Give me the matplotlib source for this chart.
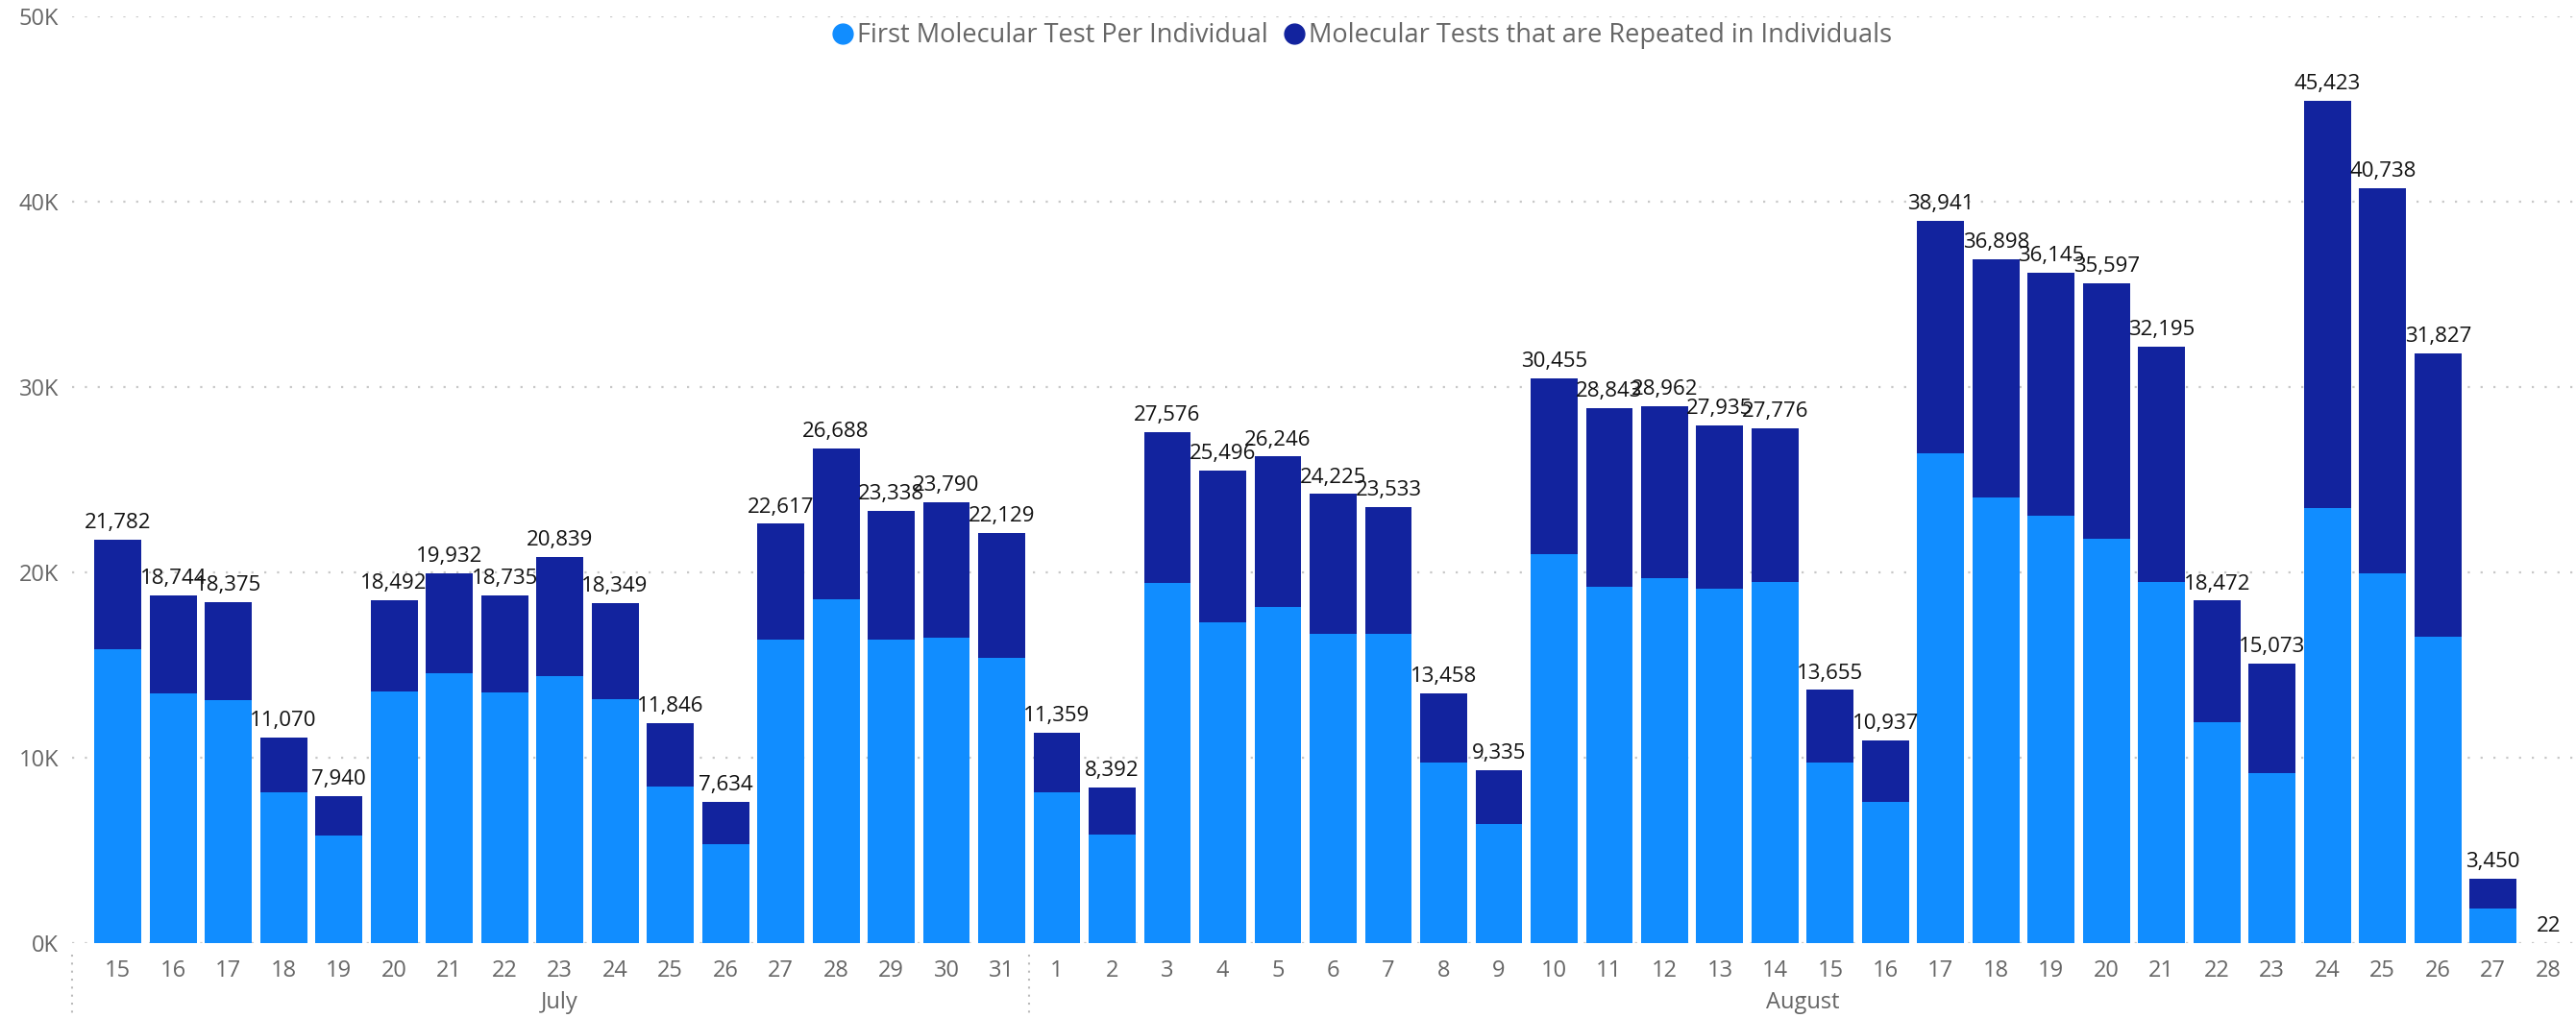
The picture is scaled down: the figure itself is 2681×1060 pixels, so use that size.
import matplotlib
matplotlib.use("Agg")
import matplotlib.pyplot as plt
from matplotlib.lines import Line2D

plt.rcParams['font.family'] = ['Open Sans', 'DejaVu Sans']

days = ['15','16','17','18','19','20','21','22','23','24','25','26','27','28','29','30','31',
        '1','2','3','4','5','6','7','8','9','10','11','12','13','14','15','16','17','18','19',
        '20','21','22','23','24','25','26','27','28']
months = ['July', 'August']
month_counts = [17, 28]

totals = [21782, 18744, 18375, 11070, 7940, 18492, 19932, 18735, 20839, 18349, 11846, 7634,
          22617, 26688, 23338, 23790, 22129,
          11359, 8392, 27576, 25496, 26246, 24225, 23533, 13458, 9335, 30455, 28843, 28962,
          27935, 27776, 13655, 10937, 38941, 36898, 36145, 35597, 32195, 18472, 15073, 45423,
          40738, 31827, 3450, 22]
first_test = [15860, 13450, 13130, 8160, 5810, 13590, 14570, 13520, 14430, 13170, 8440, 5360,
              16390, 18560, 16390, 16490, 15410,
              8160, 5880, 19430, 17300, 18140, 16700, 16700, 9730, 6440, 20970, 19220, 19680,
              19120, 19500, 9730, 7630, 26440, 24050, 23070, 21810, 19500, 11940, 9170, 23460,
              19960, 16530, 1890, 15]
repeated = [t - f for t, f in zip(totals, first_test)]

c_first = '#118DFF'
c_rep = '#12239E'
gray = '#666666'

W, H = 2681, 1060
fig = plt.figure(figsize=(W / 100, H / 100), dpi=100)
ax_l, ax_r, ax_b, ax_t = 75 / W, 1.0, (H - 982) / H, (H - 17) / H
ax = fig.add_axes([ax_l, ax_b, ax_r - ax_l, ax_t - ax_b])

x = list(range(len(days)))
ax.bar(x, first_test, width=0.85, color=c_first, zorder=2)
ax.bar(x, repeated, bottom=first_test, width=0.85, color=c_rep, zorder=2)

for xi, t in zip(x, totals):
    ax.annotate(f"{t:,}", (xi, t), xytext=(0, 5), textcoords='offset points',
                ha='center', va='bottom', fontsize=16, color='#111111', zorder=3)

ax.set_xlim(-0.83, len(days) - 0.5)
ax.set_ylim(0, 50000)
ax.set_yticks(range(0, 50001, 10000))
ax.set_yticklabels([f"{v // 1000}K" for v in range(0, 50001, 10000)])
ax.set_xticks(x)
ax.set_xticklabels(days)
ax.tick_params(axis='both', length=0, colors=gray, labelsize=17)
ax.tick_params(axis='x', pad=12)
ax.tick_params(axis='y', pad=10)
for s in ax.spines.values():
    s.set_visible(False)
ax.grid(axis='y', color='#C8C8C8', linestyle=(0, (1, 5)), linewidth=1.6, zorder=0)
ax.set_axisbelow(True)

# month labels and separators
start = 0
trans = ax.get_xaxis_transform()
for m, n in zip(months, month_counts):
    center = start + (n - 1) / 2
    ax.text(center, -0.0705, m, transform=trans, ha='center', va='baseline',
            fontsize=17, color=gray)
    sep = start - 0.5 if start > 0 else -0.5 - 0.33
    ax.add_line(Line2D([sep, sep], [-0.012, -0.08], transform=trans, color='#BBBBBB',
                       linestyle=(0, (1, 3)), linewidth=1.5, clip_on=False))
    start += n

handles = [Line2D([], [], marker='o', linestyle='', markersize=15, color=c_first),
           Line2D([], [], marker='o', linestyle='', markersize=15, color=c_rep)]
fig.legend(handles, ['First Molecular Test Per Individual',
                     'Molecular Tests that are Repeated in Individuals'],
           loc='center', bbox_to_anchor=(1416 / W, 1 - 37 / H), ncol=2, frameon=False,
           fontsize=19.5, labelcolor=gray, handletextpad=0.05, columnspacing=0.5,
           borderpad=0, handlelength=1.0)

fig.savefig('out.png', dpi=100)
